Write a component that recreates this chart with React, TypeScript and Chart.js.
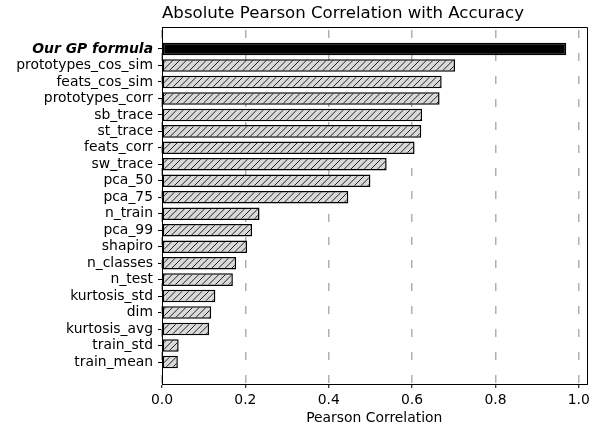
import React, { useEffect, useRef } from "react";
import { Chart, registerables } from "chart.js";

Chart.register(...registerables);

const categories: string[] = [
  "Our GP formula",
  "prototypes_cos_sim",
  "feats_cos_sim",
  "prototypes_corr",
  "sb_trace",
  "st_trace",
  "feats_corr",
  "sw_trace",
  "pca_50",
  "pca_75",
  "n_train",
  "pca_99",
  "shapiro",
  "n_classes",
  "n_test",
  "kurtosis_std",
  "dim",
  "kurtosis_avg",
  "train_std",
  "train_mean",
];

const correlations: number[] = [
  0.97, 0.703, 0.671, 0.666, 0.624, 0.622, 0.606, 0.539, 0.5, 0.447,
  0.234, 0.216, 0.204, 0.178, 0.17, 0.128, 0.118, 0.113, 0.04, 0.038,
];

const xTicks: number[] = [0, 0.2, 0.4, 0.6, 0.8, 1.0];

const chartTitle = "Absolute Pearson Correlation with Accuracy";
const FAMILY = "'DejaVu Sans', sans-serif";

function makeHatch(): CanvasPattern | string {
  const T = 20;
  const c = document.createElement("canvas");
  c.width = T;
  c.height = T;
  const g = c.getContext("2d");
  if (!g) return "#d9d9d9";
  g.fillStyle = "#d9d9d9";
  g.fillRect(0, 0, T, T);
  g.strokeStyle = "#222";
  g.lineWidth = 1;
  const d = T / 3;
  for (let k = -2; k <= 8; k++) {
    const cst = k * d;
    g.beginPath();
    g.moveTo(cst - T - 2 - T, T + 2 + T);
    g.lineTo(cst + 2 + T, -2 - T);
    g.stroke();
  }
  const p = g.createPattern(c, "repeat");
  return p || "#d9d9d9";
}

const boxPlugin = {
  id: "boxPlugin",
  afterDatasetsDraw(chart: any) {
    const { ctx, chartArea } = chart;
    const l = Math.round(chartArea.left) + 0.5;
    const r = Math.round(chartArea.right) + 0.5;
    const t = Math.round(chartArea.top) + 0.5;
    const b = Math.round(chartArea.bottom) + 0.5;
    ctx.save();
    ctx.strokeStyle = "#000";
    ctx.lineWidth = 1;
    ctx.beginPath();
    ctx.rect(l, t, r - l, b - t);
    ctx.stroke();
    ctx.fillStyle = "#000";
    ctx.font = `16.6px ${FAMILY}`;
    ctx.textAlign = "left";
    ctx.textBaseline = "alphabetic";
    ctx.fillText(chartTitle, chartArea.left, 17.5);
    ctx.restore();
  },
};

export default function App() {
  const ref = useRef<HTMLCanvasElement | null>(null);

  useEffect(() => {
    if (!ref.current) return;
    Chart.defaults.font.family = FAMILY;
    Chart.defaults.color = "#000";
    const hatch = makeHatch();
    const data = correlations.map((v, i) => ({ x: v, y: i }));
    const bg = correlations.map((_, i) => (i === 0 ? "#000" : hatch));

    const chart = new Chart(ref.current, {
      type: "bar",
      data: {
        datasets: [
          {
            data: data as any,
            backgroundColor: bg as any,
            borderColor: "#000",
            borderWidth: 1.5,
            borderSkipped: false,
            barPercentage: 0.76,
            categoryPercentage: 1,
          },
        ],
      },
      plugins: [boxPlugin],
      options: {
        indexAxis: "y",
        animation: false,
        responsive: true,
        maintainAspectRatio: false,
        layout: { padding: { left: 0, right: 19.5, top: 27, bottom: 0 } },
        plugins: {
          legend: { display: false },
          tooltip: { enabled: false },
          title: { display: false },
        },
        scales: {
          y: {
            type: "linear",
            reverse: true,
            offset: false,
            min: -1.335,
            max: 20.335,
            afterBuildTicks: (scale: any) => {
              scale.ticks = categories.map((_, i) => ({ value: i }));
            },
            afterFit: (scale: any) => {
              scale.width = 162;
            },
            ticks: {
              autoSkip: false,
              padding: 5,
              color: "#000",
              font: (ctx: any) =>
                ctx.index === 0
                  ? { family: FAMILY, size: 13.9, weight: "bold", style: "italic" }
                  : { family: FAMILY, size: 13.9, weight: "normal", style: "normal" },
              callback: (v: any) => categories[Math.round(Number(v))] ?? "",
            },
            grid: {
              offset: false,
              drawOnChartArea: false,
              tickLength: 4,
              tickColor: "#000",
              tickWidth: 1,
            },
            border: { display: true, color: "#000", width: 1 },
          },
          x: {
            type: "linear",
            min: 0,
            max: 1.0185,
            afterBuildTicks: (scale: any) => {
              scale.ticks = xTicks.map((v) => ({ value: v }));
            },
            afterFit: (scale: any) => {
              scale.height = 43;
            },
            ticks: {
              autoSkip: false,
              padding: 4,
              color: "#000",
              font: { family: FAMILY, size: 13.9 },
              callback: (v: any) => Number(v).toFixed(1),
            },
            grid: {
              drawOnChartArea: true,
              color: "#b0b0b0",
              lineWidth: 1.5,
              tickLength: 4,
              tickColor: "#000",
              tickWidth: 1,
              tickBorderDash: [],
            } as any,
            border: { display: true, color: "#000", width: 1, dash: [8, 15], dashOffset: 20 } as any,
            title: {
              display: true,
              text: "Pearson Correlation",
              color: "#000",
              font: { family: FAMILY, size: 13.9 },
              padding: { top: 0, bottom: 0 },
            },
          },
        },
      },
    });
    return () => chart.destroy();
  }, []);

  return (
    <div style={{ position: "absolute", left: 0, top: 0, width: 606, height: 427 }}>
      <canvas ref={ref} />
    </div>
  );
}
